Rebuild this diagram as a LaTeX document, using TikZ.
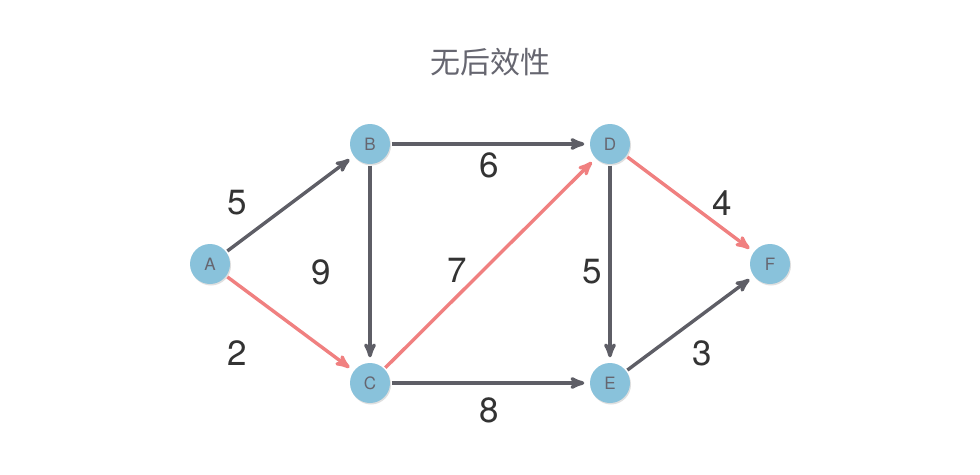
\documentclass[tikz,border=0pt]{standalone}
\usepackage{fontspec}
\setmainfont{TeX Gyre Heros}
\newfontfamily\cjk{Noto Sans CJK SC}
\usepackage{tikz}
\usetikzlibrary{arrows,automata,shadows}

\definecolor{edgegray}{HTML}{5E5E66}
\definecolor{edgered}{HTML}{F08080}
\definecolor{nodeblue}{HTML}{89C2DB}
\definecolor{textgray}{HTML}{666670}

\begin{document}
\begin{tikzpicture}[x=1pt,y=-1pt,->,>=stealth',shorten >=4pt,
                    line width=3.4pt,edgegray]

  \tikzstyle{every state}=[circle,fill=nodeblue,draw=none,minimum size=40pt,
                           inner sep=0pt,text=textgray,font=\fontsize{17}{17}\selectfont,
                           drop shadow={opacity=0.25,shadow xshift=1pt,shadow yshift=-1.5pt}]
  \tikzstyle{weight}=[text=black!80,font=\fontsize{35}{35}\selectfont]
  \tikzstyle{best}=[edgered]

  \useasboundingbox[fill=white] (0,0) rectangle (980,474);

  \node[text=textgray,font=\cjk\fontsize{30}{30}\selectfont] (title) at (490,62) {无后效性};

  \node[state] (A) at (210,264) {A};
  \node[state] (B) at (370,144) {B};
  \node[state] (C) at (370,383) {C};
  \node[state] (D) at (610,144) {D};
  \node[state] (E) at (610,383) {E};
  \node[state] (F) at (770,264) {F};

  \path (A) edge              (B)
        (A) edge [best]       (C)
        (B) edge              (D)
        (B) edge              (C)
        (C) edge [best]       (D)
        (C) edge              (E)
        (D) edge              (E)
        (D) edge [best]       (F)
        (E) edge              (F);

  \node[weight] (wAB) at (237,203) {5};
  \node[weight] (wAC) at (237,353) {2};
  \node[weight] (wBC) at (321,272) {9};
  \node[weight] (wBD) at (489,165) {6};
  \node[weight] (wCD) at (457,270) {7};
  \node[weight] (wCE) at (489,410) {8};
  \node[weight] (wDE) at (592,272) {5};
  \node[weight] (wDF) at (722,203) {4};
  \node[weight] (wEF) at (702,353) {3};
\end{tikzpicture}
\end{document}
